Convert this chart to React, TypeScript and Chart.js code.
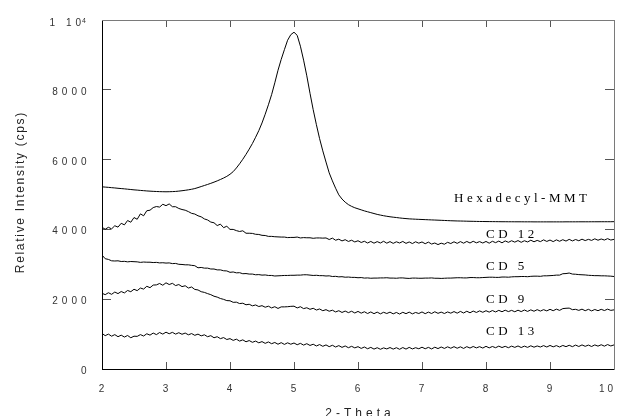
import React, { useEffect, useRef } from "react";
import { Chart, registerables } from "chart.js";

Chart.register(...registerables);

const THETA = [
  2, 2.05, 2.1, 2.15, 2.2, 2.25, 2.3, 2.35, 2.4, 2.45,
  2.5, 2.55, 2.6, 2.65, 2.7, 2.75, 2.8, 2.85, 2.9, 2.95,
  3, 3.05, 3.1, 3.15, 3.2, 3.25, 3.3, 3.35, 3.4, 3.45,
  3.5, 3.55, 3.6, 3.65, 3.7, 3.75, 3.8, 3.85, 3.9, 3.95,
  4, 4.05, 4.1, 4.15, 4.2, 4.25, 4.3, 4.35, 4.4, 4.45,
  4.5, 4.55, 4.6, 4.65, 4.7, 4.75, 4.8, 4.85, 4.9, 4.95,
  5, 5.05, 5.1, 5.15, 5.2, 5.25, 5.3, 5.35, 5.4, 5.45,
  5.5, 5.55, 5.6, 5.65, 5.7, 5.75, 5.8, 5.85, 5.9, 5.95,
  6, 6.05, 6.1, 6.15, 6.2, 6.25, 6.3, 6.35, 6.4, 6.45,
  6.5, 6.55, 6.6, 6.65, 6.7, 6.75, 6.8, 6.85, 6.9, 6.95,
  7, 7.05, 7.1, 7.15, 7.2, 7.25, 7.3, 7.35, 7.4, 7.45,
  7.5, 7.55, 7.6, 7.65, 7.7, 7.75, 7.8, 7.85, 7.9, 7.95,
  8, 8.05, 8.1, 8.15, 8.2, 8.25, 8.3, 8.35, 8.4, 8.45,
  8.5, 8.55, 8.6, 8.65, 8.7, 8.75, 8.8, 8.85, 8.9, 8.95,
  9, 9.05, 9.1, 9.15, 9.2, 9.25, 9.3, 9.35, 9.4, 9.45,
  9.5, 9.55, 9.6, 9.65, 9.7, 9.75, 9.8, 9.85, 9.9, 9.95,
  10,
];

const HEXADECYL_MMT = [
  5220, 5212, 5205, 5196, 5188, 5178, 5170, 5162, 5152, 5143,
  5133, 5126, 5117, 5110, 5102, 5096, 5090, 5086, 5082, 5080,
  5078, 5080, 5083, 5088, 5097, 5108, 5120, 5134, 5150, 5170,
  5198, 5228, 5258, 5288, 5320, 5354, 5390, 5430, 5472, 5520,
  5580, 5655, 5760, 5880, 6010, 6150, 6300, 6460, 6640, 6830,
  7050, 7300, 7570, 7860, 8200, 8560, 8870, 9150, 9420, 9580,
  9650, 9560, 9250, 8850, 8400, 7900, 7430, 7000, 6600, 6250,
  5930, 5620, 5390, 5180, 4990, 4870, 4780, 4710, 4660, 4620,
  4590, 4560, 4530, 4505, 4480, 4455, 4430, 4410, 4392, 4376,
  4362, 4350, 4340, 4328, 4318, 4310, 4302, 4297, 4292, 4288,
  4284, 4280, 4276, 4272, 4268, 4264, 4260, 4256, 4252, 4248,
  4245, 4242, 4240, 4238, 4235, 4233, 4231, 4229, 4227, 4226,
  4225, 4224, 4223, 4222, 4221, 4220, 4220, 4219, 4219, 4218,
  4218, 4218, 4217, 4217, 4217, 4216, 4216, 4216, 4216, 4216,
  4216, 4216, 4216, 4216, 4216, 4217, 4217, 4217, 4217, 4218,
  4218, 4218, 4218, 4219, 4219, 4219, 4220, 4220, 4220, 4220,
  4222,
];

const CD12 = [
  4060, 4005, 4060, 4015, 4105, 4065, 4175, 4130, 4255, 4205,
  4340, 4290, 4445, 4390, 4535, 4550, 4625, 4655, 4640, 4720,
  4680, 4730, 4650, 4650, 4600, 4570, 4550, 4510, 4460, 4440,
  4390, 4360, 4300, 4270, 4210, 4190, 4110, 4150, 4050, 4090,
  4000, 4000, 3965, 3940, 3960, 3890, 3890, 3885, 3860, 3855,
  3830, 3825, 3800, 3800, 3790, 3785, 3780, 3780, 3765, 3770,
  3770, 3780, 3755, 3765, 3760, 3760, 3745, 3755, 3755, 3750,
  3755, 3710, 3750, 3690, 3720, 3670, 3705, 3655, 3690, 3640,
  3675, 3625, 3660, 3610, 3655, 3605, 3650, 3610, 3660, 3605,
  3650, 3600, 3645, 3610, 3655, 3600, 3640, 3595, 3645, 3605,
  3640, 3590, 3635, 3580, 3610, 3565, 3605, 3575, 3630, 3595,
  3645, 3600, 3650, 3605, 3655, 3610, 3660, 3615, 3650, 3610,
  3655, 3605, 3660, 3620, 3665, 3615, 3670, 3630, 3675, 3635,
  3680, 3630, 3675, 3640, 3690, 3645, 3685, 3650, 3700, 3655,
  3695, 3650, 3700, 3660, 3705, 3665, 3715, 3670, 3710, 3675,
  3720, 3680, 3715, 3685, 3730, 3690, 3725, 3695, 3735, 3695,
  3715,
];

const CD5 = [
  3265, 3160, 3140, 3100, 3095, 3100, 3080, 3085, 3070, 3080,
  3075, 3070, 3055, 3065, 3060, 3060, 3050, 3055, 3040, 3045,
  3035, 3040, 3020, 3025, 3000, 2995, 2985, 2985, 2970, 2960,
  2900, 2910, 2890, 2890, 2865, 2865, 2840, 2840, 2815, 2810,
  2770, 2780, 2755, 2760, 2730, 2735, 2720, 2720, 2700, 2705,
  2690, 2695, 2680, 2680, 2665, 2670, 2675, 2680, 2680, 2685,
  2685, 2690, 2690, 2700, 2700, 2690, 2680, 2685, 2675, 2675,
  2665, 2670, 2650, 2655, 2640, 2645, 2630, 2635, 2625, 2625,
  2615, 2620, 2605, 2610, 2600, 2605, 2605, 2610, 2610, 2615,
  2605, 2605, 2600, 2610, 2610, 2600, 2595, 2605, 2605, 2600,
  2600, 2605, 2605, 2610, 2600, 2600, 2595, 2600, 2605, 2605,
  2610, 2615, 2615, 2610, 2610, 2620, 2620, 2615, 2615, 2620,
  2625, 2630, 2630, 2625, 2625, 2635, 2635, 2630, 2640, 2645,
  2645, 2650, 2650, 2645, 2655, 2660, 2660, 2655, 2670, 2670,
  2675, 2680, 2690, 2690, 2730, 2735, 2750, 2720, 2715, 2705,
  2700, 2695, 2685, 2680, 2675, 2675, 2670, 2670, 2665, 2660,
  2650,
];

const CD9 = [
  2170, 2130, 2185, 2140, 2205, 2160, 2220, 2180, 2250, 2215,
  2285, 2245, 2320, 2290, 2370, 2330, 2405, 2410, 2450, 2400,
  2470, 2420, 2455, 2390, 2420, 2360, 2385, 2320, 2350, 2280,
  2265, 2215, 2195, 2160, 2130, 2085, 2060, 2020, 1995, 1960,
  1955, 1910, 1915, 1875, 1885, 1840, 1855, 1810, 1835, 1790,
  1815, 1770, 1800, 1750, 1785, 1735, 1780, 1780, 1785, 1795,
  1800, 1750, 1785, 1730, 1755, 1710, 1740, 1690, 1720, 1670,
  1700, 1655, 1685, 1635, 1670, 1620, 1660, 1615, 1655, 1605,
  1650, 1600, 1640, 1590, 1635, 1585, 1630, 1580, 1625, 1590,
  1630, 1580, 1620, 1575, 1625, 1585, 1630, 1580, 1620, 1590,
  1635, 1585, 1630, 1590, 1640, 1595, 1630, 1590, 1635, 1600,
  1645, 1600, 1650, 1605, 1655, 1610, 1660, 1620, 1665, 1625,
  1670, 1630, 1675, 1635, 1680, 1640, 1685, 1645, 1680, 1640,
  1685, 1645, 1690, 1650, 1695, 1655, 1700, 1660, 1700, 1665,
  1710, 1670, 1715, 1680, 1730, 1740, 1745, 1700, 1710, 1680,
  1715, 1670, 1710, 1665, 1705, 1670, 1710, 1675, 1715, 1680,
  1695,
];

const CD13 = [
  1020, 955, 1000, 940, 985, 925, 970, 915, 960, 895,
  940, 935, 985, 945, 1010, 970, 1030, 985, 1045, 1000,
  1055, 1010, 1050, 1000, 1040, 995, 1030, 980, 1015, 965,
  1000, 950, 980, 925, 955, 895, 925, 870, 900, 845,
  870, 820, 855, 800, 835, 780, 815, 765, 800, 750,
  785, 735, 775, 725, 760, 710, 755, 705, 750, 710,
  745, 695, 735, 685, 725, 675, 710, 660, 700, 650,
  690, 640, 680, 630, 670, 620, 660, 610, 650, 605,
  640, 590, 630, 580, 620, 570, 610, 565, 605, 575,
  615, 570, 610, 565, 615, 570, 620, 575, 610, 580,
  625, 580, 620, 575, 625, 585, 630, 590, 635, 595,
  640, 595, 635, 590, 640, 600, 645, 605, 640, 600,
  650, 605, 645, 610, 655, 615, 650, 610, 655, 620,
  660, 615, 655, 620, 665, 625, 660, 630, 670, 630,
  675, 635, 670, 630, 675, 640, 680, 640, 685, 645,
  690, 650, 685, 645, 690, 655, 695, 655, 700, 660,
  690,
];

const SERIES_NAMES = ["Hexadecyl-MMT", "CD 12", "CD 5", "CD 9", "CD 13"];
const SERIES_VALUES = [HEXADECYL_MMT, CD12, CD5, CD9, CD13];

// label anchors in data coordinates (theta, intensity at text baseline)
const LABEL_THETA = [7.5, 8.0, 8.0, 8.0, 8.0];
const LABEL_INTENSITY = [4785, 3765, 2837, 1905, 974];

const X_TICKS = [2, 3, 4, 5, 6, 7, 8, 9, 10];
const Y_TICKS = [0, 2000, 4000, 6000, 8000, 10000];
const Y_TICK_LABELS = ["0", "2000", "4000", "6000", "8000", "1 10"];
const X_TITLE = "2-Theta";
const Y_TITLE = "Relative Intensity (cps)";

function spaced(
  ctx: CanvasRenderingContext2D,
  text: string,
  x: number,
  y: number,
  gap: number,
  align: "left" | "center" | "right"
) {
  const chars = Array.from(text);
  const widths = chars.map((ch) => ctx.measureText(ch).width);
  const total = widths.reduce((a, b) => a + b, 0) + gap * (chars.length - 1);
  let cx = align === "left" ? x : align === "center" ? x - total / 2 : x - total;
  ctx.textAlign = "left";
  chars.forEach((ch, i) => {
    ctx.fillText(ch, cx, y);
    cx += widths[i] + gap;
  });
}

const texts = {
  id: "texts",
  afterDraw(chart: any) {
    const ctx = chart.ctx as CanvasRenderingContext2D;
    const xs = chart.scales.x;
    const ys = chart.scales.y;
    ctx.save();
    ctx.fillStyle = "#333";
    ctx.textBaseline = "alphabetic";
    const tickFont = "10px 'Liberation Sans', Arial, sans-serif";
    ctx.font = tickFont;
    Y_TICKS.forEach((v, i) => {
      const py = ys.getPixelForValue(v);
      if (v === 10000) {
        spaced(ctx, Y_TICK_LABELS[i], 81, py + 5.5, 4, "right");
        ctx.font = "7px 'Liberation Sans', Arial, sans-serif";
        ctx.fillText("4", 82, py + 2.5);
        ctx.font = tickFont;
      } else {
        spaced(ctx, Y_TICK_LABELS[i], 86.5, py + 5, 4, "right");
      }
    });
    X_TICKS.forEach((v, i) => {
      const px = xs.getPixelForValue(v);
      if (i === X_TICKS.length - 1) {
        spaced(ctx, String(v), px - 1, 392, 3, "right");
      } else {
        spaced(ctx, String(v), px - 0.5, 392, 4, "center");
      }
    });

    ctx.fillStyle = "#222";
    ctx.font = "12px 'Liberation Sans', Arial, sans-serif";
    const cx = (xs.getPixelForValue(2) + xs.getPixelForValue(10)) / 2;
    spaced(ctx, X_TITLE, cx, 417, 4, "center");
    ctx.save();
    ctx.translate(24, 193);
    ctx.rotate(-Math.PI / 2);
    spaced(ctx, Y_TITLE, 0, 0, 1.7, "center");
    ctx.restore();

    ctx.fillStyle = "#000";
    ctx.font = "13px 'Liberation Serif', 'Times New Roman', serif";
    SERIES_NAMES.forEach((name, i) => {
      spaced(
        ctx,
        name,
        xs.getPixelForValue(LABEL_THETA[i]),
        ys.getPixelForValue(LABEL_INTENSITY[i]),
        3.5,
        "left"
      );
    });
    ctx.restore();
  },
};

// axis helpers: zero-size axes that draw only their border and inward tick marks
function frameAxis(
  position: "bottom" | "top" | "left" | "right",
  min: number,
  max: number,
  step: number,
  borderColor: string,
  tickLen: number
) {
  const horizontal = position === "bottom" || position === "top";
  return {
    type: "linear" as const,
    position,
    min,
    max,
    display: true,
    ticks: { display: false, stepSize: step, autoSkip: false },
    grid: {
      display: true,
      drawOnChartArea: false,
      drawTicks: true,
      tickLength: -tickLen,
      color: "#555555",
      lineWidth: 1,
    },
    border: { display: true, color: borderColor, width: 1 },
    title: { display: false },
    afterFit(scale: any) {
      if (horizontal) scale.height = 0;
      else scale.width = 0;
    },
  };
}

export default function App() {
  const ref = useRef<HTMLCanvasElement>(null);
  useEffect(() => {
    if (!ref.current) return;
    const chart = new Chart(ref.current, {
      type: "line",
      data: {
        datasets: SERIES_VALUES.map((vals, si) => ({
          label: SERIES_NAMES[si],
          data: THETA.map((t, i) => ({ x: t, y: vals[i] })),
          borderColor: "#000",
          borderWidth: 1,
          pointRadius: 0,
          tension: 0,
          xAxisID: "x",
          yAxisID: "y",
        })),
      },
      options: {
        animation: false,
        responsive: false,
        devicePixelRatio: 1,
        layout: { padding: { left: 102, right: 7, top: 20, bottom: 47 } },
        plugins: { legend: { display: false }, tooltip: { enabled: false } },
        scales: {
          x: frameAxis("bottom", 2, 10, 1, "#000000", 7) as any,
          y: frameAxis("left", 0, 10000, 2000, "#000000", 9) as any,
          x2: frameAxis("top", 2, 10, 1, "#7a7a7a", 7) as any,
          y2: frameAxis("right", 0, 10000, 2000, "#7a7a7a", 9) as any,
        },
      },
      plugins: [texts],
    });
    return () => chart.destroy();
  }, []);
  return (
    <div style={{ position: "absolute", left: 0, top: 0, width: 621, height: 416, background: "#fff" }}>
      <canvas ref={ref} width={621} height={416} style={{ width: 621, height: 416, display: "block" }} />
    </div>
  );
}
